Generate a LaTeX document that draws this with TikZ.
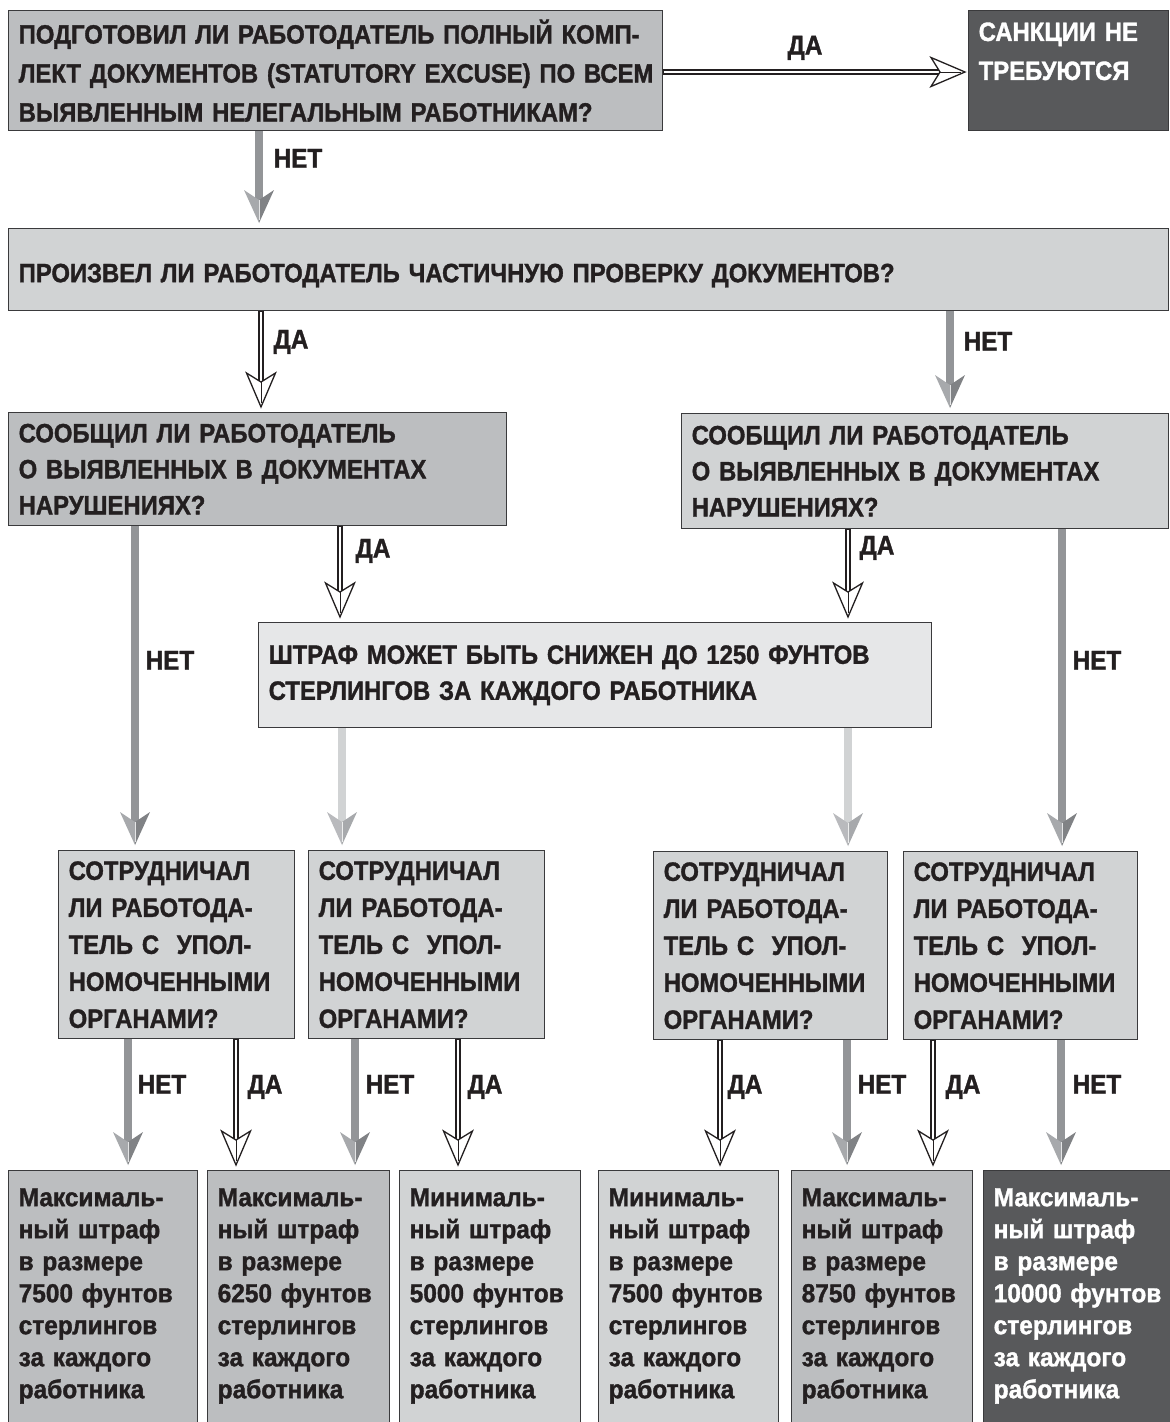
\documentclass[tikz,border=0pt]{standalone}
\usepackage{fontspec}
\setmainfont{Liberation Sans}
\newfontfamily\condfont{Liberation Sans}[FakeStretch=0.9, BoldFeatures={FakeBold=1.3}]
\newfontfamily\narrowfont{Liberation Sans}[FakeStretch=0.94, BoldFeatures={FakeBold=1.3}]
\usetikzlibrary{calc}

\definecolor{midgray}{HTML}{BCBEC0}
\definecolor{lightgray}{HTML}{D1D3D4}
\definecolor{palegray}{HTML}{E6E7E8}
\definecolor{darkbox}{HTML}{58595B}
\definecolor{edge}{HTML}{3A3A3C}
\definecolor{ink}{HTML}{231F20}
\definecolor{shaftgray}{HTML}{939598}
\definecolor{shaftlight}{HTML}{D1D3D4}
\definecolor{tipleft}{HTML}{A7A9AC}
\definecolor{tipright}{HTML}{808285}

\tikzset{
  box/.style 2 args={draw=edge, line width=1.4pt, anchor=north west,
    inner xsep=10pt, inner ysep=0pt, align=left, text=ink,
    text width=#1, minimum height=#2},
  hdr/.style={font=\condfont\bfseries\fontsize{26.5}{#1}\selectfont},
  fine/.style={font=\narrowfont\bfseries\fontsize{26}{32}\selectfont},
  lbl/.style={font=\condfont\bfseries\fontsize{27}{30}\selectfont, text=ink,
    inner sep=0pt, text height=19pt, text depth=0pt},
  gshaft/.style={draw=shaftgray, line width=8pt},
  lshaft/.style={draw=shaftlight, line width=8pt},
  dblout/.style={draw=ink, line width=6.6pt},
  dblin/.style={draw=white, line width=2.2pt},
  gtip/.pic={
    \fill[tipleft] (0,0) -- (-15,-33) -- (0,-23) -- cycle;
    \fill[tipright] (0,0) -- (15,-33) -- (0,-23) -- cycle;
    \draw[white!70!tipleft, line width=0.8pt] (0,-23) -- (0,-3);
  },
  ltip/.pic={
    \fill[tipleft!80!white] (0,0) -- (-15,-33) -- (0,-23) -- cycle;
    \fill[tipleft] (0,0) -- (15,-33) -- (0,-23) -- cycle;
    \draw[white!80!tipleft, line width=0.8pt] (0,-23) -- (0,-3);
  },
  dtip/.pic={
    \filldraw[fill=white, draw=ink, line width=1.3pt, line join=miter]
      (0,0) -- (-14.5,-34) -- (0,-25) -- (14.5,-34) -- cycle;
    \draw[ink, line width=1pt] (0,-25) -- (0,-4);
  },
}

% vertical connectors: x position, source node, target node
\newcommand\grayconn[3]{%
  \draw[gshaft] (#1,0 |- #2.south) -- ($(#1,0 |- #3.north)+(0,-14)$);
  \pic at ($(#1,0 |- #3.north)+(0,-5)$) {gtip};}
\newcommand\lightconn[3]{%
  \draw[lshaft] (#1,0 |- #2.south) -- ($(#1,0 |- #3.north)+(0,-14)$);
  \pic at ($(#1,0 |- #3.north)+(0,-5)$) {ltip};}
\newcommand\dblconn[3]{%
  \draw[dblout] (#1,0 |- #2.south) -- ($(#1,0 |- #3.north)+(0,-28)$);
  \draw[dblin] ($(#1,0 |- #2.south)+(0,1)$) -- ($(#1,0 |- #3.north)+(0,-28)$);
  \pic at ($(#1,0 |- #3.north)+(0,-5)$) {dtip};}

\begin{document}
\begin{tikzpicture}[x=1pt,y=-1pt]
\useasboundingbox (0,0) rectangle (1170,1422);
\clip (0,0) rectangle (1170,1422);
\fill[white] (0,0) rectangle (1170,1422);

% ---- question and outcome boxes
\node[box={634pt}{120pt}, hdr=39, fill=midgray] (A) at (8,10)
  {\mbox{ПОДГОТОВИЛ ЛИ РАБОТОДАТЕЛЬ ПОЛНЫЙ КОМП-}\\\mbox{ЛЕКТ ДОКУМЕНТОВ (STATUTORY EXCUSE) ПО ВСЕМ}\\\mbox{ВЫЯВЛЕННЫМ НЕЛЕГАЛЬНЫМ РАБОТНИКАМ?}};
\node[box={180pt}{120pt}, hdr=39, fill=darkbox, text=white] (S) at (968,10)
  {\mbox{САНКЦИИ НЕ}\\\mbox{ТРЕБУЮТСЯ}\\\mbox{}};
\node[box={1140pt}{82pt}, hdr=39, fill=lightgray, text height=25pt, text depth=0pt] (B) at (8,228)
  {\mbox{ПРОИЗВЕЛ ЛИ РАБОТОДАТЕЛЬ ЧАСТИЧНУЮ ПРОВЕРКУ ДОКУМЕНТОВ?}};
\node[box={478pt}{113pt}, hdr=36, fill=midgray] (C1) at (8,412)
  {\mbox{СООБЩИЛ ЛИ РАБОТОДАТЕЛЬ}\\\mbox{О ВЫЯВЛЕННЫХ В ДОКУМЕНТАХ}\\\mbox{НАРУШЕНИЯХ?}};
\node[box={467pt}{115pt}, hdr=36, fill=lightgray] (C2) at (681,413)
  {\mbox{СООБЩИЛ ЛИ РАБОТОДАТЕЛЬ}\\\mbox{О ВЫЯВЛЕННЫХ В ДОКУМЕНТАХ}\\\mbox{НАРУШЕНИЯХ?}};
\node[box={653pt}{105pt}, hdr=36, fill=palegray] (D) at (258,622)
  {\mbox{ШТРАФ МОЖЕТ БЫТЬ СНИЖЕН ДО 1250 ФУНТОВ}\\\mbox{СТЕРЛИНГОВ ЗА КАЖДОГО РАБОТНИКА}};

\foreach \nm/\xx/\yy/\ww in {E1/58/850/216, E2/308/850/216, E3/653/851/214, E4/903/851/214}{
  \node[box={\ww pt}{188pt}, hdr=37, fill=lightgray] (\nm) at (\xx,\yy)
    {\mbox{СОТРУДНИЧАЛ}\\\mbox{ЛИ РАБОТОДА-}\\\mbox{ТЕЛЬ С\ \ УПОЛ-}\\\mbox{НОМОЧЕННЫМИ}\\\mbox{ОРГАНАМИ?}};
}

\foreach \nm/\xx/\ww/\fc/\tc/\kind/\sum in {
    F1/8/169/midgray/ink/Максималь/7500,
    F2/207/162/midgray/ink/Максималь/6250,
    F3/399/161/lightgray/ink/Минималь/5000,
    F4/598/160/lightgray/ink/Минималь/7500,
    F5/791/161/midgray/ink/Максималь/8750,
    F6/983/167/darkbox/white/Максималь/10000}{
  \node[box={\ww pt}{262pt}, fine, fill=\fc, text=\tc, text height=19pt, text depth=210pt] (\nm) at (\xx,1170)
    {\mbox{\kind-}\\\mbox{ный штраф}\\\mbox{в размере}\\\mbox{\sum\ фунтов}\\\mbox{стерлингов}\\\mbox{за каждого}\\\mbox{работника}};
}

% ---- connectors
\draw[dblout] (A.east |- 0,72) -- ($(S.west |- 0,72)+(-28,0)$);
\draw[dblin] ($(A.east |- 0,72)+(1,0)$) -- ($(S.west |- 0,72)+(-28,0)$);
\pic[rotate=90] at ($(S.west |- 0,72)+(-3,0)$) {dtip};

\grayconn{259}{A}{B}
\dblconn{261}{B}{C1}
\grayconn{950}{B}{C2}
\dblconn{340}{C1}{D}
\dblconn{848}{C2}{D}
\grayconn{135}{C1}{E1}
\grayconn{1062}{C2}{E4}
\lightconn{342}{D}{E2}
\lightconn{848}{D}{E3}

\grayconn{128}{E1}{F1}
\dblconn{236}{E1}{F2}
\grayconn{355}{E2}{F3}
\dblconn{458}{E2}{F3}
\dblconn{720}{E3}{F4}
\grayconn{847}{E3}{F5}
\dblconn{933}{E4}{F5}
\grayconn{1061}{E4}{F6}

% ---- branch labels
\node[lbl] (yA) at (805,45) {ДА};
\node[lbl] (nA) at (298,158) {НЕТ};
\node[lbl] (yB) at (291,339) {ДА};
\node[lbl] (nB) at (988,341) {НЕТ};
\node[lbl] (yC1) at (373,548) {ДА};
\node[lbl] (yC2) at (877,545) {ДА};
\node[lbl] (nC1) at (170,660) {НЕТ};
\node[lbl] (nC2) at (1097,660) {НЕТ};
\node[lbl] (nE1) at (162,1084) {НЕТ};
\node[lbl] (yE1) at (265,1084) {ДА};
\node[lbl] (nE2) at (390,1084) {НЕТ};
\node[lbl] (yE2) at (485,1084) {ДА};
\node[lbl] (yE3) at (745,1084) {ДА};
\node[lbl] (nE3) at (882,1084) {НЕТ};
\node[lbl] (yE4) at (963,1084) {ДА};
\node[lbl] (nE4) at (1097,1084) {НЕТ};
\end{tikzpicture}
\end{document}
